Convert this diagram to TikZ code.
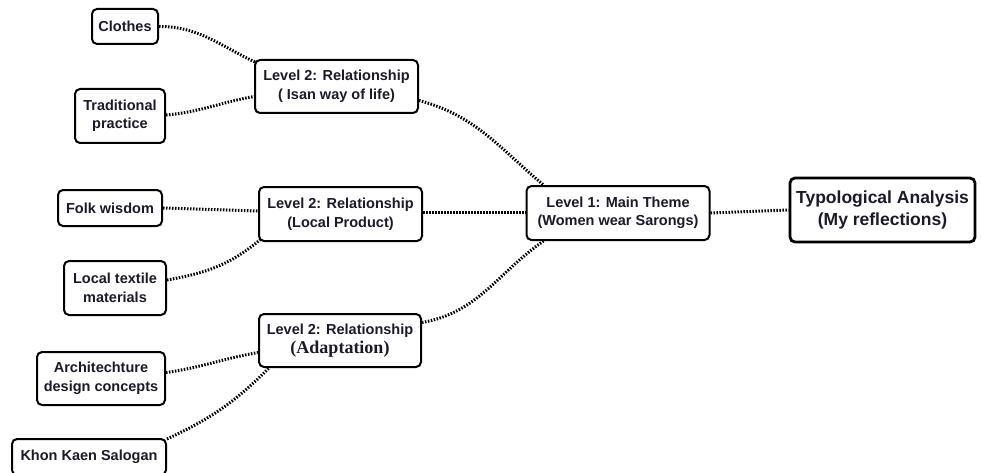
\documentclass[tikz,border=0pt]{standalone}
\usepackage{fontspec}
\setmainfont{Liberation Sans}
\newfontfamily\serifbold{Liberation Serif}
\usetikzlibrary{calc}
\definecolor{txt}{HTML}{1A1A2A}
\tikzset{
  box/.style={draw=black, line width=2pt, rounded corners=5pt, fill=white,
    align=center, inner sep=1pt, font=\fontsize{14.5}{18.5}\selectfont\bfseries, text=txt},
  bigbox/.style={box, line width=2.8pt, font=\fontsize{17.5}{22}\selectfont\bfseries},
  link/.style={line width=3pt, dash pattern=on 1.5pt off 1.5pt, black}
}
\begin{document}
\begin{tikzpicture}[x=1pt,y=-1pt]
\useasboundingbox (0,0) rectangle (981,473);
\node[box, minimum width=66pt, minimum height=35pt] (clothes) at (125,26.5) {Clothes};
\node[box, minimum width=90pt, minimum height=54pt] (trad) at (120,116) {Traditional\\practice};
\node[box, minimum width=163pt, minimum height=53pt] (l2a) at (336.5,86.5) {Level 2: Relationship\\( Isan way of life)};
\node[box, minimum width=104pt, minimum height=36pt] (folk) at (110,208) {Folk wisdom};
\node[box, minimum width=163pt, minimum height=54pt] (l2b) at (340.5,214) {Level 2: Relationship\\(Local Product)};
\node[box, minimum width=102pt, minimum height=54pt] (textile) at (115,288) {Local textile\\materials};
\node[box, minimum width=162pt, minimum height=53pt] (l2c) at (340,340.5) {Level 2: Relationship\\{\serifbold\fontsize{18}{18.5}\selectfont(Adaptation)}};
\node[box, minimum width=128pt, minimum height=53pt] (arch) at (101,378.5) {Architechture\\design concepts};
\node[box, minimum width=154pt, minimum height=36pt] (khon) at (89,457) {Khon Kaen Salogan};
\node[box, minimum width=183pt, minimum height=54pt] (l1) at (618,213) {Level 1: Main Theme\\(Women wear Sarongs)};
\node[bigbox, minimum width=185pt, minimum height=64pt] (typ) at (882.5,210) {Typological Analysis\\(My reflections)};

\draw[link] (clothes.east) to[out=0,in=155] ($(l2a.north west)+(1,3)$);
\draw[link] ($(trad.east)+(0,-1)$) to[out=5,in=190] ($(l2a.west)+(0,10)$);
\draw[link] ($(l2a.east)+(0,14)$) to[out=-15,in=140] ($(l1.north west)+(18,0)$);
\draw[link] (folk.east) -- ($(l2b.west)+(0,-3)$);
\draw[link] ($(l2b.east)+(0,-2)$) -- ($(l1.west)+(0,-1)$);
\draw[link] ($(textile.east)+(0,-8)$) to[out=10,in=-140] ($(l2b.south west)+(3,-3)$);
\draw[link] ($(l2c.east)+(0,-18)$) to[out=10,in=-145] ($(l1.south west)+(18,0)$);
\draw[link] ($(arch.east)+(0,-6)$) to[out=8,in=190] ($(l2c.west)+(0,12)$);
\draw[link] ($(khon.north east)+(0,1)$) to[out=25,in=-135] ($(l2c.south west)+(11,0)$);
\draw[link] (l1.east) -- (typ.west);
\end{tikzpicture}
\end{document}
